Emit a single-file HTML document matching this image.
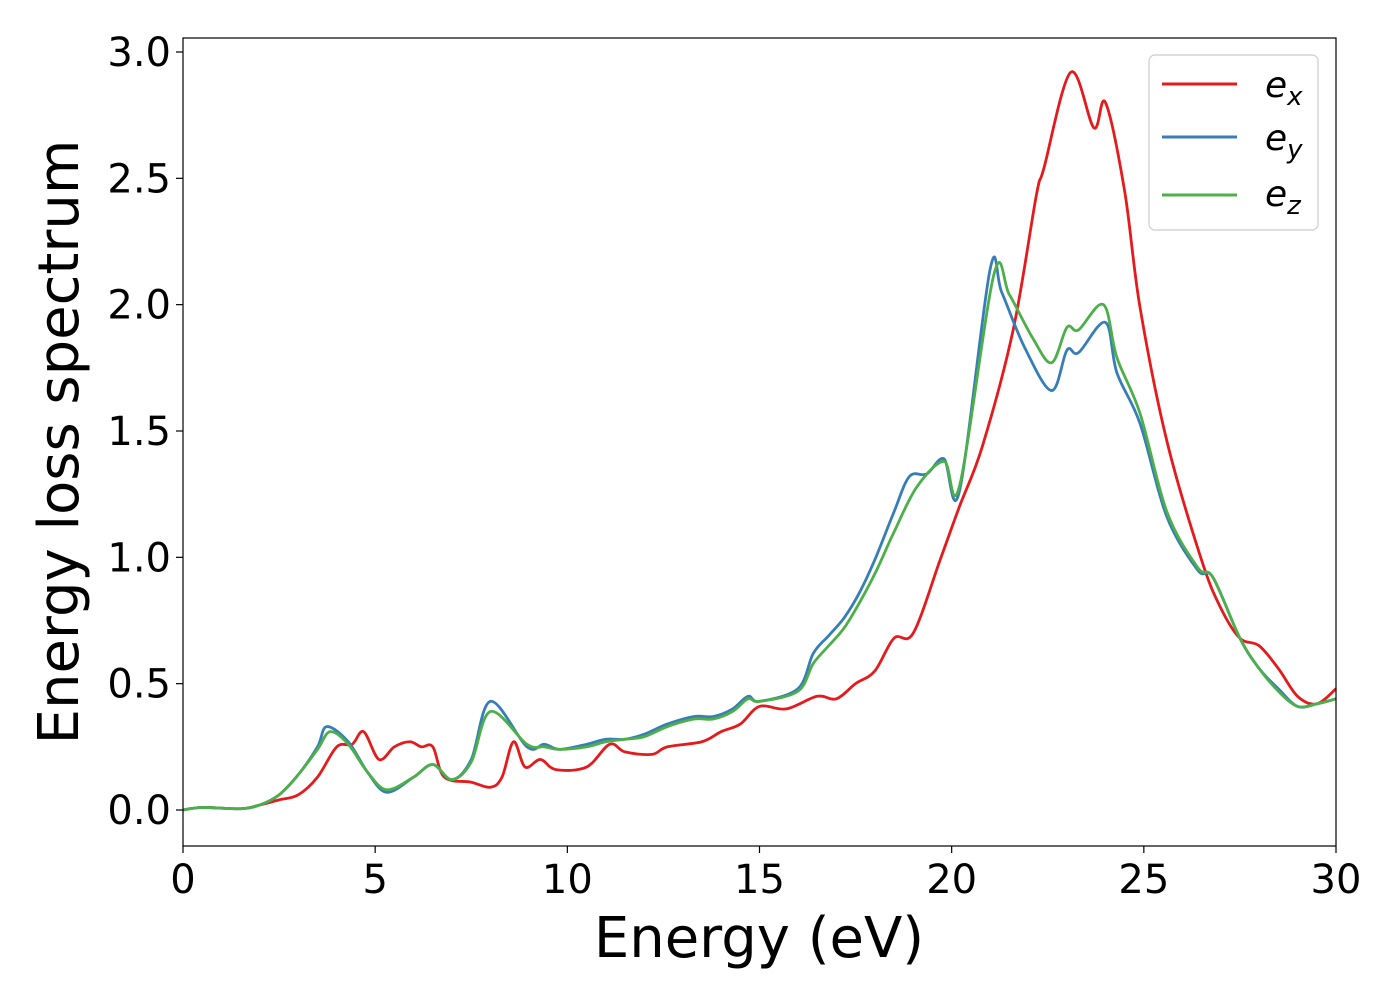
<!DOCTYPE html>
<html><head><meta charset="utf-8"><style>
body{margin:0;background:#fff}
svg{display:block;font-family:"DejaVu Sans","Liberation Sans",sans-serif}
</style></head><body>
<svg id="chart" width="1400" height="1000" viewBox="0 0 1400 1000" xmlns="http://www.w3.org/2000/svg">
<rect width="1400" height="1000" fill="#fff"/>
<g id="series"></g>
<g id="axes"></g>
<rect x="183" y="38" width="1153" height="808" fill="none" stroke="#000" stroke-width="1.2"/>
<text x="759" y="957" font-size="56" text-anchor="middle">Energy (eV)</text>
<text transform="translate(78,442) rotate(-90)" font-size="56" text-anchor="middle">Energy loss spectrum</text>
<g>
<rect x="1149" y="55" width="169" height="175" rx="6" fill="#fff" stroke="#ccc" stroke-width="1.2"/>
<line x1="1162" y1="84" x2="1237" y2="84" stroke="#e41a1c" stroke-width="3"/>
<line x1="1162" y1="137" x2="1237" y2="137" stroke="#377eb8" stroke-width="3"/>
<line x1="1162" y1="195" x2="1237" y2="195" stroke="#4daf4a" stroke-width="3"/>
<text x="1265" y="97" font-size="36" font-style="italic">e<tspan font-size="26" dy="8">x</tspan></text>
<text x="1265" y="150" font-size="36" font-style="italic">e<tspan font-size="26" dy="8">y</tspan></text>
<text x="1265" y="206" font-size="36" font-style="italic">e<tspan font-size="26" dy="8">z</tspan></text>
</g>
</svg>
<script>
const xTicks=[0,5,10,15,20,25,30];
const yTicks=[0.0,0.5,1.0,1.5,2.0,2.5,3.0];
const yTickLabels=["0.0","0.5","1.0","1.5","2.0","2.5","3.0"];
const exE=[0,0.5,1.5,2,2.5,3,3.5,4,4.4,4.7,5.1,5.5,5.9,6.2,6.5,6.8,7.5,8.0,8.3,8.6,8.9,9.3,9.7,10.5,11.1,11.5,12.2,12.6,13.5,14,14.5,15,15.7,16.5,17,17.5,18,18.5,19,19.7,20.2,20.8,21.6,22.2,22.4,23.1,23.7,24.0,24.5,24.9,25.6,26.5,27,27.5,28,28.5,29,29.5,30];
const exV=[0,0.01,0.005,0.02,0.04,0.06,0.13,0.25,0.26,0.31,0.2,0.25,0.27,0.25,0.25,0.13,0.11,0.09,0.13,0.27,0.17,0.2,0.16,0.17,0.26,0.23,0.22,0.25,0.27,0.31,0.34,0.41,0.4,0.45,0.44,0.5,0.55,0.68,0.7,0.99,1.2,1.44,1.9,2.43,2.54,2.92,2.7,2.8,2.45,1.99,1.46,0.99,0.8,0.68,0.65,0.56,0.45,0.42,0.48];
const eyE=[0,0.5,1.5,2,2.5,3,3.5,3.74,4.3,4.8,5.3,6.0,6.5,7.0,7.5,8.0,8.95,9.4,9.8,10.5,11,11.5,12,12.6,13.3,13.8,14.3,14.7,15,16,16.4,16.8,17.2,17.6,18.0,18.5,18.9,19.35,19.8,20.2,21.0,21.3,21.9,22.6,23.0,23.3,24.0,24.3,24.9,25.6,26.4,26.8,27.5,28,28.5,29,29.5,30];
const eyV=[0,0.01,0.005,0.02,0.06,0.14,0.25,0.33,0.27,0.15,0.07,0.13,0.18,0.12,0.2,0.43,0.25,0.26,0.24,0.26,0.28,0.28,0.3,0.34,0.37,0.37,0.4,0.45,0.43,0.48,0.62,0.69,0.76,0.86,0.99,1.18,1.32,1.33,1.39,1.26,2.14,2.05,1.83,1.66,1.82,1.81,1.93,1.73,1.53,1.16,0.95,0.92,0.68,0.56,0.48,0.41,0.42,0.44];
const ezE=[0,0.5,1.5,2,2.5,3,3.5,3.83,4.3,4.8,5.3,6.0,6.5,7.0,7.5,8.0,8.95,9.4,9.8,10.5,11,11.5,12,12.6,13.3,13.8,14.3,14.7,15,16,16.4,16.8,17.2,17.6,18.05,18.5,19.1,19.8,20.2,21.1,21.5,22.1,22.6,23.0,23.3,23.95,24.3,24.9,25.6,26.4,26.8,27.5,28,28.5,29,29.5,30];
const ezV=[0,0.01,0.005,0.02,0.06,0.14,0.24,0.31,0.26,0.15,0.08,0.13,0.18,0.12,0.19,0.39,0.26,0.25,0.24,0.25,0.27,0.28,0.29,0.33,0.36,0.36,0.39,0.44,0.43,0.47,0.58,0.65,0.72,0.82,0.95,1.1,1.28,1.38,1.28,2.12,2.04,1.87,1.77,1.91,1.9,2.0,1.79,1.57,1.18,0.96,0.92,0.68,0.56,0.47,0.41,0.42,0.44];
const X0=183,X1=1336,YB=810,YT=52;
const sx=e=>X0+(e-0)/(30-0)*(X1-X0);
const sy=v=>YB-(v-0)/(3-0)*(YB-YT);
const NS="http://www.w3.org/2000/svg";
const axes=document.getElementById('axes');
xTicks.forEach(t=>{
  const l=document.createElementNS(NS,'line');
  
  
  l.setAttribute('x1',sx(t));l.setAttribute('x2',sx(t));l.setAttribute('y1',846);l.setAttribute('y2',853);
  l.setAttribute('stroke','#000');l.setAttribute('stroke-width','1.2');axes.appendChild(l);
  const tx=document.createElementNS(NS,'text');
  
  
  tx.setAttribute('x',sx(t));tx.setAttribute('y',893);tx.setAttribute('font-size','40');tx.setAttribute('text-anchor','middle');
  tx.textContent=t;axes.appendChild(tx);
});
yTicks.forEach((t,i)=>{
  const l=document.createElementNS(NS,'line');
  
  
  l.setAttribute('x1',176);l.setAttribute('x2',183);l.setAttribute('y1',sy(t));l.setAttribute('y2',sy(t));
  l.setAttribute('stroke','#000');l.setAttribute('stroke-width','1.2');axes.appendChild(l);
  const tx=document.createElementNS(NS,'text');
  
  
  tx.setAttribute('x',171);tx.setAttribute('y',sy(t)+14);tx.setAttribute('font-size','40');tx.setAttribute('text-anchor','end');
  tx.textContent=yTickLabels[i];axes.appendChild(tx);
});
function pathFor(E,V){
  const p=E.map((e,i)=>[sx(e),sy(V[i])]);
  let d='M'+p[0][0]+','+p[0][1];
  for(let i=0;i<p.length-1;i++){
    const a=p[Math.max(0,i-1)],b=p[i],c=p[i+1],n=p[Math.min(p.length-1,i+2)];
    const c1=[b[0]+(c[0]-a[0])/6,b[1]+(c[1]-a[1])/6];
    const c2=[c[0]-(n[0]-b[0])/6,c[1]-(n[1]-b[1])/6];
    d+=' C'+c1[0]+','+c1[1]+' '+c2[0]+','+c2[1]+' '+c[0]+','+c[1];
  }
  return d;
}
const g=document.getElementById('series');
[[exE,exV,'#e41a1c','line-ex'],[eyE,eyV,'#377eb8','line-ey'],[ezE,ezV,'#4daf4a','line-ez']].forEach(s=>{
  const p=document.createElementNS(NS,'path');
  
  
  p.setAttribute('d',pathFor(s[0],s[1]));
  p.setAttribute('fill','none');p.setAttribute('stroke',s[2]);p.setAttribute('stroke-width','2.8');
  g.appendChild(p);
});
</script>
</body></html>
